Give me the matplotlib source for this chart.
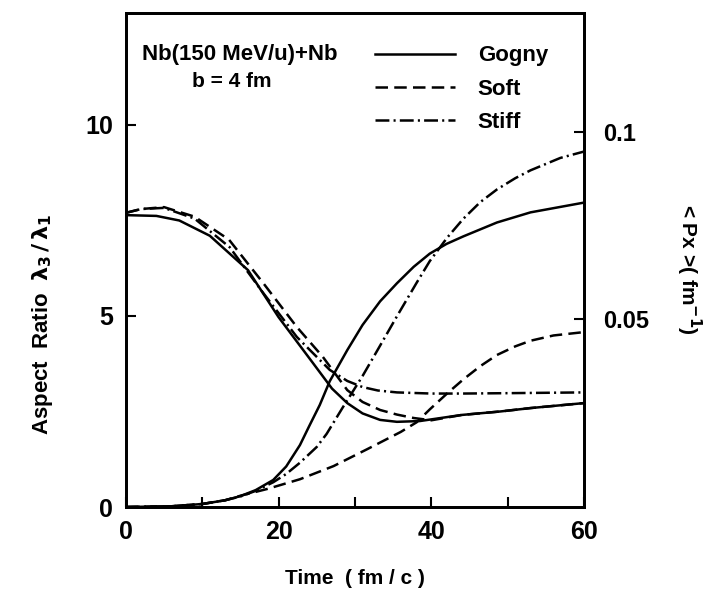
import numpy as np
import matplotlib
matplotlib.use("Agg")
import matplotlib.pyplot as plt


# --------------------------------------------------
# Data
# --------------------------------------------------

# aspect ratio lambda3/lambda1 (left axis)
t_gogny_ar = [0, 4, 7, 11, 16, 20, 24.5, 27, 29, 31, 33.3, 35.5, 38.5, 44, 49, 53, 60]
gogny_ar = [7.64, 7.62, 7.5, 7.1, 6.2, 4.97, 3.77, 3.1, 2.72, 2.45, 2.28, 2.23, 2.25,
            2.41, 2.5, 2.59, 2.72]

t_soft_ar = [0, 2, 5, 9, 13.5, 18, 22.4, 25.8, 29, 31, 33.3, 35.5, 37.7, 40, 44, 49, 53, 60]
soft_ar = [7.7, 7.8, 7.85, 7.6, 7.0, 5.86, 4.71, 3.93, 3.06, 2.75, 2.54, 2.42, 2.33, 2.27,
           2.41, 2.5, 2.59, 2.72]

t_stiff_ar = [0, 2, 5, 9, 13.6, 18, 22.4, 26.7, 29, 31, 33, 35.5, 40, 44, 50, 60]
stiff_ar = [7.7, 7.8, 7.83, 7.55, 6.8, 5.6, 4.45, 3.59, 3.3, 3.14, 3.05, 3.0, 2.97, 2.97,
            2.98, 3.0]

# <Px> in fm^-1 (right axis)
t_gogny_px = [0, 6, 10, 13, 15, 17, 19.3, 21, 22.8, 24, 25.4, 26.7, 29, 31, 33.3, 35.5,
              37.7, 39.8, 42, 44.2, 48.6, 53, 60]
gogny_px = [0, 0.0002, 0.0008, 0.0018, 0.0029, 0.0045, 0.0072, 0.0108, 0.0165, 0.0215,
            0.0272, 0.0335, 0.0418, 0.0485, 0.0548, 0.0596, 0.064, 0.0675, 0.0701, 0.0721,
            0.0758, 0.0785, 0.0811]

t_soft_px = [0, 6, 10, 13, 15, 18.5, 22.8, 27.2, 31.6, 36, 38.1, 39.8, 42.1, 44.2, 46.4,
             48.6, 51, 53, 56, 60]
soft_px = [0, 0.0002, 0.0008, 0.0018, 0.003, 0.0048, 0.0074, 0.0109, 0.0154, 0.02, 0.0226,
           0.026, 0.0303, 0.034, 0.0375, 0.0405, 0.0428, 0.0443, 0.0457, 0.0466]

t_stiff_px = [0, 6, 10, 13, 15, 17, 19.3, 21, 22.8, 25, 26.3, 28.4, 31, 33.3, 35.5, 38.1,
              39.8, 42.1, 44.2, 46.4, 48.6, 51, 53, 56.9, 60]
stiff_px = [0, 0.0002, 0.0008, 0.0018, 0.0028, 0.0043, 0.0066, 0.0088, 0.0118, 0.016, 0.0195,
            0.0265, 0.0349, 0.043, 0.0508, 0.0598, 0.0655, 0.0718, 0.0768, 0.0812, 0.0846,
            0.0876, 0.0897, 0.093, 0.0947]

x_ticks = [0, 10, 20, 30, 40, 50, 60]
x_ticklabels = ["0", "", "20", "", "40", "", "60"]
left_ticks = [0, 5, 10]
right_ticks = [0.05, 0.1]
right_ticklabels = ["0.05", "0.1"]


# --------------------------------------------------
# Style
# --------------------------------------------------

plt.rcParams["font.family"] = ["Liberation Sans", "DejaVu Sans"]
plt.rcParams["font.weight"] = "bold"
plt.rcParams["mathtext.fontset"] = "custom"
plt.rcParams["mathtext.rm"] = "DejaVu Sans:bold"
plt.rcParams["mathtext.it"] = "DejaVu Sans:bold"
plt.rcParams["lines.scale_dashes"] = False

LW = 1.8
SOLID = "-"
DASHED = (0, (9, 4.5))
DASHDOT = (0, (10, 3, 1.5, 3))


# --------------------------------------------------
# Figure
# --------------------------------------------------

fig = plt.figure(figsize=(7.07, 5.93), dpi=100)
ax = fig.add_axes([0.178, 0.145, 0.648, 0.833])
ax2 = ax.twinx()

ax.plot(t_gogny_ar, gogny_ar, color="black", lw=LW, ls=SOLID, label="Gogny")
ax.plot(t_soft_ar, soft_ar, color="black", lw=LW, ls=DASHED, label="Soft")
ax.plot(t_stiff_ar, stiff_ar, color="black", lw=LW, ls=DASHDOT, label="Stiff")

ax2.plot(t_gogny_px, gogny_px, color="black", lw=LW, ls=SOLID)
ax2.plot(t_soft_px, soft_px, color="black", lw=LW, ls=DASHED)
ax2.plot(t_stiff_px, stiff_px, color="black", lw=LW, ls=DASHDOT)

ax.set_xlim(0, 60)
ax.set_ylim(0, 12.93)
ax2.set_ylim(0, 0.1316)

ax.set_xticks(x_ticks)
ax.set_xticklabels(x_ticklabels)
ax.set_yticks(left_ticks)
ax2.set_yticks(right_ticks)
ax2.set_yticklabels(right_ticklabels)

ax.tick_params(direction="in", length=7, width=1.5, labelsize=18, pad=9)
ax2.tick_params(direction="in", length=7, width=1.5, labelsize=17, pad=14)

for a in (ax, ax2):
    for sp in a.spines.values():
        sp.set_linewidth(2)

ax.set_xlabel("Time  ( fm / c )", fontsize=15, fontweight="bold", labelpad=18)
ax.set_ylabel(r"Aspect  Ratio  $\lambda_3\,/\,\lambda_1$", fontsize=16,
              fontweight="bold")
ax.yaxis.set_label_coords(-0.155, 0.37)
ax2.set_ylabel(r"< Px >( fm$^{-1}$)", fontsize=15, fontweight="bold",
               rotation=-90)
ax2.yaxis.set_label_coords(1.26, 0.48)

ax.text(0.035, 0.905, "Nb(150 MeV/u)+Nb", transform=ax.transAxes,
        fontsize=16, fontweight="bold")
ax.text(0.145, 0.85, "b = 4 fm", transform=ax.transAxes,
        fontsize=15, fontweight="bold")

ax.legend(loc="upper right", bbox_to_anchor=(0.965, 0.975), frameon=False,
          handlelength=3.6, handletextpad=1.0, labelspacing=0.55,
          prop={"size": 16, "weight": "bold"})

plt.savefig("out.png", dpi=100)
